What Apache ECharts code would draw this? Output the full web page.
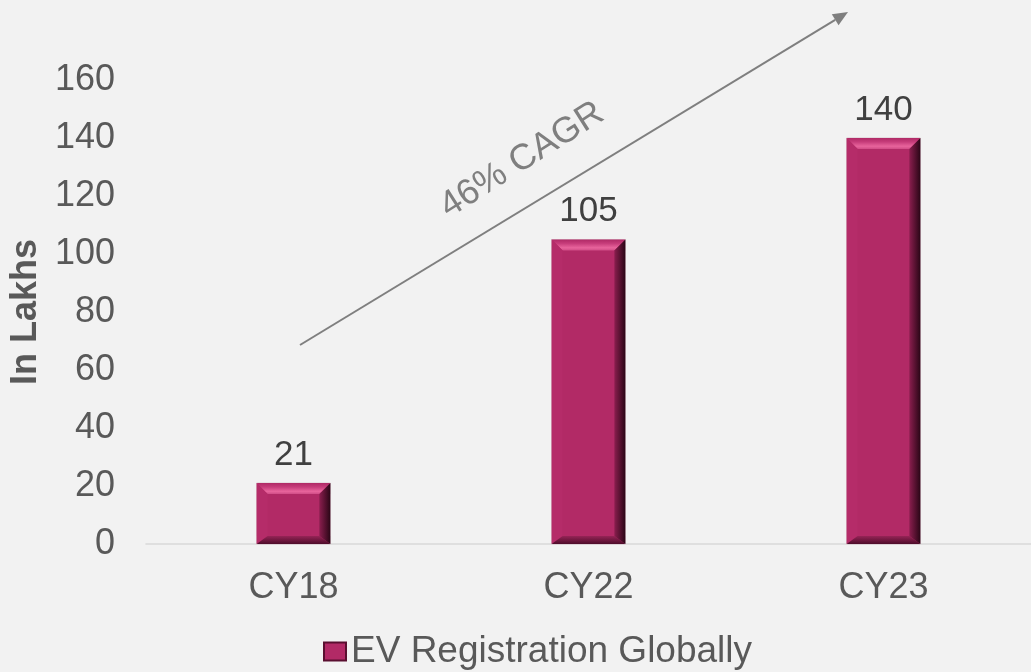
<!DOCTYPE html>
<html>
<head>
<meta charset="utf-8">
<script src="https://cdn.jsdelivr.net/npm/echarts@6/dist/echarts.min.js"></script>
<style>
html,body{margin:0;padding:0;background:#f2f2f2;}
#chart{width:1031px;height:672px;}
</style>
</head>
<body>
<div id="chart"></div>
<script>
var categories = ['CY18', 'CY22', 'CY23'];
var values = [21, 105, 140];
var yTicks = [0, 20, 40, 60, 80, 100, 120, 140, 160];
var seriesName = 'EV Registration Globally';
var axisName = 'In Lakhs';
var cagrText = '46% CAGR';

var FONT = '"Liberation Sans", Arial, sans-serif';
var chart = echarts.init(document.getElementById('chart'), null, {renderer: 'canvas'});

function renderBar(params, api) {
  var idx = api.value(0);
  var val = api.value(1);
  var top = api.coord([idx, val]);
  var bot = api.coord([idx, 0]);
  var w = api.size([1, 0])[0] * 0.25;
  var x0 = top[0] - w / 2, x1 = top[0] + w / 2;
  var y0 = top[1], y1 = bot[1];
  var b = Math.min(11, (y1 - y0) / 2);
  var bb = Math.min(8, (y1 - y0) / 2);
  var G = echarts.graphic.LinearGradient;
  return {
    type: 'group',
    children: [
      {
        type: 'rect',
        shape: {x: x0, y: y0, width: w, height: y1 - y0},
        style: {fill: '#b22a66', stroke: '#d8c4cc', lineWidth: 1},
        textContent: {
          style: {text: String(val), fontSize: 35, fill: '#404040', fontFamily: FONT}
        },
        textConfig: {position: 'top', distance: 10}
      },
      {
        type: 'polygon',
        shape: {points: [[x0, y0], [x1, y0], [x1 - b, y0 + b], [x0 + b, y0 + b]]},
        style: {fill: new G(0, 0, 0, 1, [
          {offset: 0, color: '#b02a66'},
          {offset: 0.35, color: '#c63c7a'},
          {offset: 0.75, color: '#e8649c'},
          {offset: 1, color: '#d04c86'}
        ])}
      },
      {
        type: 'polygon',
        shape: {points: [[x0, y0], [x0 + b, y0 + b], [x0 + b, y1 - bb], [x0, y1]]},
        style: {fill: '#b52c69'}
      },
      {
        type: 'polygon',
        shape: {points: [[x0, y1], [x0 + b, y1 - bb], [x1 - b, y1 - bb], [x1, y1]]},
        style: {fill: new G(0, 0, 0, 1, [
          {offset: 0, color: '#962456'},
          {offset: 1, color: '#4e0c2a'}
        ])}
      },
      {
        type: 'polygon',
        shape: {points: [[x1, y0], [x1, y1], [x1 - b, y1 - bb], [x1 - b, y0 + b]]},
        style: {fill: new G(0, 0, 1, 0, [
          {offset: 0, color: '#8a1e4e'},
          {offset: 1, color: '#2a0616'}
        ])}
      }
    ]
  };
}

// arrow geometry (annotation)
var ax0 = 300, ay0 = 345, ax1 = 848, ay1 = 12;
var dx = ax1 - ax0, dy = ay1 - ay0, len = Math.sqrt(dx * dx + dy * dy);
var ux = dx / len, uy = dy / len, px = -uy, py = ux;
var hl = 15, hw = 6.5;
var bx = ax1 - hl * ux, by = ay1 - hl * uy;
var angle = Math.atan2(-dy, dx);

var option = {
  backgroundColor: '#f2f2f2',
  animation: false,
  grid: {left: 140, right: -7, top: 80, bottom: 128, containLabel: false},
  legend: {
    show: true,
    data: [{name: seriesName, icon: 'rect'}],
    top: 628,
    left: 318,
    itemWidth: 22,
    itemHeight: 18,
    itemGap: 6,
    textStyle: {fontSize: 37, color: '#595959', fontFamily: FONT}
  },
  xAxis: {
    type: 'category',
    data: categories,
    axisLine: {show: true, lineStyle: {color: '#d9d9d9', width: 1.5}},
    axisTick: {show: false},
    axisLabel: {fontSize: 36, color: '#595959', margin: 26, fontFamily: FONT},
    splitLine: {show: false}
  },
  yAxis: {
    type: 'value',
    min: yTicks[0],
    max: yTicks[yTicks.length - 1],
    interval: yTicks[1] - yTicks[0],
    name: axisName,
    nameLocation: 'middle',
    nameGap: 98,
    nameTextStyle: {fontSize: 36, fontWeight: 'bold', color: '#595959', fontFamily: FONT},
    axisLine: {show: false},
    axisTick: {show: false},
    splitLine: {show: false},
    axisLabel: {fontSize: 36, color: '#595959', margin: 31, fontFamily: FONT}
  },
  series: [{
    name: seriesName,
    type: 'custom',
    renderItem: renderBar,
    itemStyle: {color: '#b22a66', borderColor: '#5a0f30', borderWidth: 1},
    encode: {x: 0, y: 1},
    data: categories.map(function (c, i) { return [i, values[i]]; })
  }],
  graphic: [
    {
      type: 'line',
      shape: {x1: ax0, y1: ay0, x2: bx, y2: by},
      style: {stroke: '#7f7f7f', lineWidth: 2}
    },
    {
      type: 'polygon',
      shape: {points: [[ax1, ay1], [bx + hw * px, by + hw * py], [bx - hw * px, by - hw * py]]},
      style: {fill: '#7f7f7f'}
    },
    {
      type: 'text',
      x: 522,
      y: 160,
      rotation: angle + 0.02,
      style: {
        text: cagrText,
        fontSize: 36,
        fill: '#7f7f7f',
        fontFamily: FONT,
        align: 'center',
        verticalAlign: 'middle'
      }
    }
  ]
};
chart.setOption(option);
</script>
</body>
</html>
